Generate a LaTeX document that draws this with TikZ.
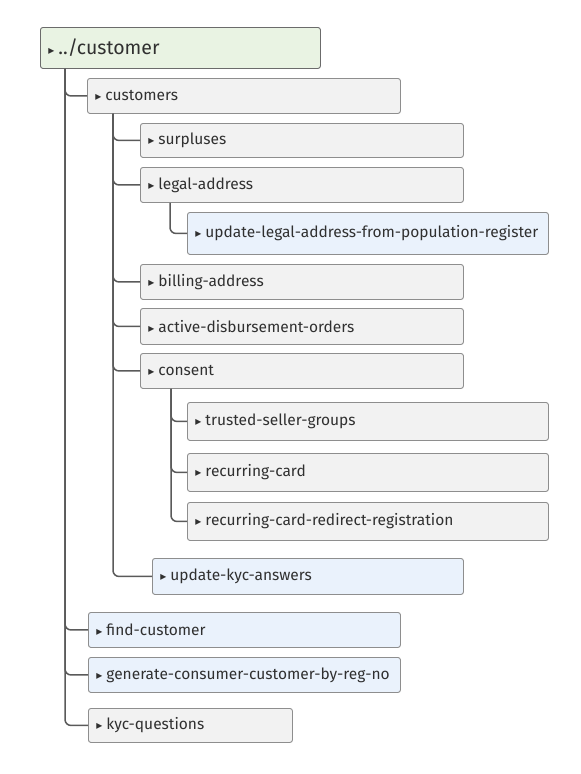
\documentclass[tikz,border=0pt]{standalone}
\usepackage{fontspec}
\setmainfont{Fira Sans}
\newfontfamily\symfont{DejaVu Sans}
\usetikzlibrary{positioning,calc}
\definecolor{lnclr}{HTML}{5A5A5A}
\definecolor{bdclr}{HTML}{8E8E8E}
\definecolor{txclr}{HTML}{303030}
\definecolor{gryfill}{HTML}{F2F2F2}
\definecolor{blufill}{HTML}{EAF2FC}
\definecolor{grnfill}{HTML}{E9F3E3}
\newcommand{\itemmark}{{\symfont\fontsize{12}{12}\selectfont ▸}\hspace{4pt}}
\tikzset{
  blk/.style={draw=bdclr,line width=0.9pt,rounded corners=2.5pt,anchor=north west,inner xsep=8pt,inner ysep=0pt,align=left,text=txclr,minimum height=35pt,font=\fontsize{15.5}{18}\selectfont},
  gryblk/.style={blk,fill=gryfill},
  blublk/.style={blk,fill=blufill},
  rootblk/.style={blk,fill=grnfill,draw=lnclr!90,minimum height=41pt,font=\fontsize{19.5}{22}\selectfont},
  conn/.style={draw=lnclr,line width=1.5pt,rounded corners=6pt}
}
\begin{document}
\begin{tikzpicture}[x=1pt,y=-1pt]
  \useasboundingbox (0,0) rectangle (581,774);

  \node[rootblk, text width=264pt] (root) at (40,27) {\itemmark../customer};
  \node[gryblk, text width=297pt] (cust) at (87,78) {\itemmark customers};
  \node[gryblk, text width=307pt, minimum height=34pt] (surp) at (140,123) {\itemmark surpluses};
  \node[gryblk, text width=307pt] (legal) at (140,167) {\itemmark legal-address};
  \node[blublk, text width=345pt, minimum height=42pt] (updlegal) at (187,212) {\itemmark update-legal-address-from-population-register};
  \node[gryblk, text width=307pt] (bill) at (140,264) {\itemmark billing-address};
  \node[gryblk, text width=307pt, minimum height=36pt] (act) at (140,308) {\itemmark active-disbursement-orders};
  \node[gryblk, text width=307pt] (cons) at (140,353) {\itemmark consent};
  \node[gryblk, text width=345pt, minimum height=38pt] (trusted) at (187,402) {\itemmark trusted-seller-groups};
  \node[gryblk, text width=345pt, minimum height=38pt] (reccard) at (187,453) {\itemmark recurring-card};
  \node[gryblk, text width=345pt, minimum height=38pt] (redir) at (187,502) {\itemmark recurring-card-redirect-registration};
  \node[blublk, text width=295pt, minimum height=36pt] (updkyc) at (152,558) {\itemmark update-kyc-answers};
  \node[blublk, text width=296pt] (find) at (88,612) {\itemmark find-customer};
  \node[blublk, text width=296pt] (gen) at (88,657) {\itemmark generate-consumer-customer-by-reg-no};
  \node[gryblk, text width=188pt, minimum height=34pt] (kycq) at (88,708) {\itemmark kyc-questions};

  % trunks under each parent
  \coordinate (t0) at ($(root.south west)+(25,0)$);
  \coordinate (t1) at ($(cust.south west)+(26,0)$);
  \coordinate (t2) at ($(legal.south west)+(30,0)$);
  \coordinate (t3) at ($(cons.south west)+(31,0)$);

  \foreach \c in {cust,find,gen,kycq}
    \draw[conn] (t0) |- (\c.west);
  \foreach \c in {surp,legal,bill,act,cons,updkyc}
    \draw[conn] (t1) |- (\c.west);
  \draw[conn] (t2) |- (updlegal.west);
  \foreach \c in {trusted,reccard,redir}
    \draw[conn] (t3) |- (\c.west);
\end{tikzpicture}
\end{document}
